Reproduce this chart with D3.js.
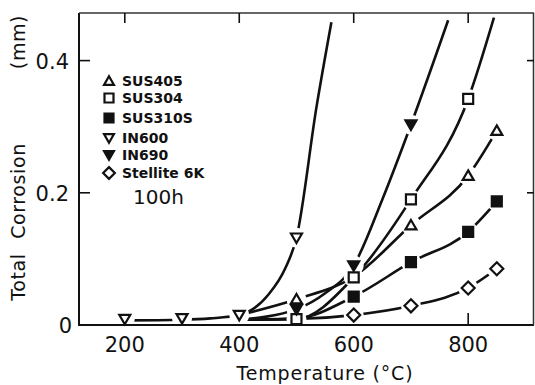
<!DOCTYPE html>
<html><head><meta charset="utf-8">
<script src="https://cdn.jsdelivr.net/npm/d3@7"></script>
<style>body{margin:0;background:#fff}svg{display:block}</style>
</head><body>
<svg id="c" width="535" height="385"></svg>
<script>
// ---- data ----
const xTicks = [200, 400, 600, 800];
const yTicks = [0, 0.2, 0.4];
const yTickLabels = ["0", "0.2", "0.4"];
const seriesNames = ["SUS405", "SUS304", "SUS310S", "IN600", "IN690", "Stellite  6K"];

// measured points (markers)
const sus405Pts = [[500, 0.039], [700, 0.151], [800, 0.226], [850, 0.294]];
const sus304Pts = [[500, 0.009], [600, 0.072], [700, 0.190], [800, 0.342]];
const sus310sPts = [[600, 0.043], [700, 0.095], [800, 0.141], [850, 0.187]];
const in600Pts = [[200, 0.009], [300, 0.010], [400, 0.015], [500, 0.132]];
const in690Pts = [[500, 0.024], [600, 0.090], [700, 0.303]];
const stellitePts = [[600, 0.015], [700, 0.029], [800, 0.056], [850, 0.085]];

// drawn fitted curves
const sus405Curve = [[400, 0.015], [500, 0.039], [600, 0.073], [700, 0.151], [800, 0.226], [850, 0.294]];
const sus304Curve = [[400, 0.008], [500, 0.009], [600, 0.072], [700, 0.190], [800, 0.342], [845, 0.465]];
const sus310sCurve = [[400, 0.008], [500, 0.010], [600, 0.043], [700, 0.095], [800, 0.141], [850, 0.187]];
const in600Curve = [[200, 0.007], [300, 0.008], [350, 0.010], [400, 0.015], [450, 0.045], [480, 0.085], [500, 0.132], [535, 0.33], [561, 0.458]];
const in690Curve = [[400, 0.008], [500, 0.024], [550, 0.048], [600, 0.090], [650, 0.190], [700, 0.303], [765, 0.461]];
const stelliteCurve = [[400, 0.008], [500, 0.009], [600, 0.015], [700, 0.029], [800, 0.056], [850, 0.085]];

const series = [
  {name: seriesNames[0], pts: sus405Pts, curve: sus405Curve, shape: "triUp", fill: false},
  {name: seriesNames[1], pts: sus304Pts, curve: sus304Curve, shape: "square", fill: false},
  {name: seriesNames[2], pts: sus310sPts, curve: sus310sCurve, shape: "square", fill: true},
  {name: seriesNames[3], pts: in600Pts, curve: in600Curve, shape: "triDown", fill: false},
  {name: seriesNames[4], pts: in690Pts, curve: in690Curve, shape: "triDown", fill: true},
  {name: seriesNames[5], pts: stellitePts, curve: stelliteCurve, shape: "diamond", fill: false}
];

// ---- layout ----
const svg = d3.select("#c");
const L = 79, R = 534, T = 13, B = 325;
const x = d3.scaleLinear().domain([120, 915]).range([L, R]);
const y = d3.scaleLinear().domain([0, 0.472]).range([B, T]);
const ink = "#111";
const font = "DejaVu Sans, sans-serif";

function shapePath(shape, s) {
  const h = s / 2;
  if (shape === "square") return `M${-h},${-h}H${h}V${h}H${-h}Z`;
  if (shape === "triUp") return `M0,${-h * 1.05}L${h * 1.1},${h * 0.85}L${-h * 1.1},${h * 0.85}Z`;
  if (shape === "triDown") return `M0,${h * 1.05}L${h * 1.1},${-h * 0.85}L${-h * 1.1},${-h * 0.85}Z`;
  if (shape === "diamond") { const d = h * 1.3; return `M0,${-d}L${d},0L0,${d}L${-d},0Z`; }
}

svg.append("clipPath").attr("id", "pc").append("rect")
  .attr("x", L).attr("y", T).attr("width", R - L).attr("height", B - T);

// lines
const line = d3.line().x(d => x(d[0])).y(d => y(d[1])).curve(d3.curveMonotoneX);
svg.append("g").attr("clip-path", "url(#pc)").selectAll("path").data(series).join("path")
  .attr("d", d => line(d.curve)).attr("fill", "none").attr("stroke", ink)
  .attr("stroke-width", 2.6).attr("stroke-linecap", "butt");

// bottom ticks (pointing inward)
svg.append("g").selectAll("line").data(xTicks).join("line")
  .attr("x1", d => x(d)).attr("x2", d => x(d)).attr("y1", B).attr("y2", B - 12)
  .attr("stroke", ink).attr("stroke-width", 1.6);

// halos (gaps around markers)
const allPts = series.flatMap(s => s.pts.map(p => ({p, s})));
svg.append("g").selectAll("circle").data(allPts).join("circle")
  .attr("cx", d => x(d.p[0])).attr("cy", d => y(d.p[1])).attr("r", 10).attr("fill", "#fff");

// markers
svg.append("g").selectAll("path").data(allPts).join("path")
  .attr("transform", d => `translate(${x(d.p[0])},${y(d.p[1])})`)
  .attr("d", d => shapePath(d.s.shape, 10))
  .attr("fill", d => d.s.fill ? ink : "#fff").attr("stroke", ink).attr("stroke-width", 2.2)
  .attr("stroke-linejoin", "miter");

// frame
svg.append("line").attr("x1", L).attr("x2", L).attr("y1", T).attr("y2", B).attr("stroke", ink).attr("stroke-width", 2);
svg.append("line").attr("x1", L - 1).attr("x2", R).attr("y1", B).attr("y2", B).attr("stroke", ink).attr("stroke-width", 2);
svg.append("line").attr("x1", L).attr("x2", R).attr("y1", T).attr("y2", T).attr("stroke", "#333").attr("stroke-width", 1.5);
svg.append("line").attr("x1", R - 0.5).attr("x2", R - 0.5).attr("y1", T).attr("y2", B).attr("stroke", "#333").attr("stroke-width", 1.5);

// top ticks
svg.append("g").selectAll("line").data(xTicks).join("line")
  .attr("x1", d => x(d)).attr("x2", d => x(d)).attr("y1", T).attr("y2", T + 10)
  .attr("stroke", ink).attr("stroke-width", 1.6);
// left and right ticks
const yInner = yTicks.filter(v => v > 0);
svg.append("g").selectAll("line").data(yInner).join("line")
  .attr("x1", L).attr("x2", L + 11).attr("y1", d => y(d)).attr("y2", d => y(d))
  .attr("stroke", ink).attr("stroke-width", 1.6);
svg.append("g").selectAll("line").data(yInner).join("line")
  .attr("x1", R).attr("x2", R - 7).attr("y1", d => y(d)).attr("y2", d => y(d))
  .attr("stroke", ink).attr("stroke-width", 1.6);

// tick labels
svg.append("g").selectAll("text").data(xTicks).join("text")
  .attr("x", d => x(d)).attr("y", 352).attr("text-anchor", "middle")
  .attr("font-family", font).attr("font-size", 21).attr("fill", ink).text(d => d);
svg.append("g").selectAll("text").data(yTicks).join("text")
  .attr("x", (d, i) => i === 0 ? 72 : 69).attr("y", d => y(d) + 8).attr("text-anchor", "end")
  .attr("font-family", font).attr("font-size", 21).attr("fill", ink).text((d, i) => yTickLabels[i]);

// axis titles
svg.append("text").attr("x", 325).attr("y", 380).attr("text-anchor", "middle")
  .attr("font-family", font).attr("font-size", 19).attr("letter-spacing", 0.8).attr("fill", ink)
  .text("Temperature (°C)");
const yt = svg.append("g").attr("transform", "translate(25,0) rotate(-90)");
[["Total", 277], ["Corrosion", 191], ["(mm)", 42]].forEach(([t, c]) => {
  yt.append("text").attr("x", -c).attr("y", 0).attr("text-anchor", "middle")
    .attr("font-family", font).attr("font-size", 19).attr("letter-spacing", 0.6).attr("fill", ink).text(t);
});

// legend
const legY = [81, 98, 118, 138, 155, 173];
const lg = svg.append("g").selectAll("g").data(series).join("g")
  .attr("transform", (d, i) => `translate(109,${legY[i]})`);
lg.append("path").attr("d", d => shapePath(d.shape, 9))
  .attr("fill", d => d.fill ? ink : "#fff").attr("stroke", ink).attr("stroke-width", 2.2);
lg.append("text").attr("x", 13).attr("y", 5).attr("font-family", font).attr("font-weight", "bold")
  .attr("font-size", 14).attr("fill", ink).text(d => d.name);
svg.append("text").attr("x", 133).attr("y", 204).attr("font-family", font).attr("font-size", 20)
  .attr("fill", ink).text("100h");
</script>
</body></html>
